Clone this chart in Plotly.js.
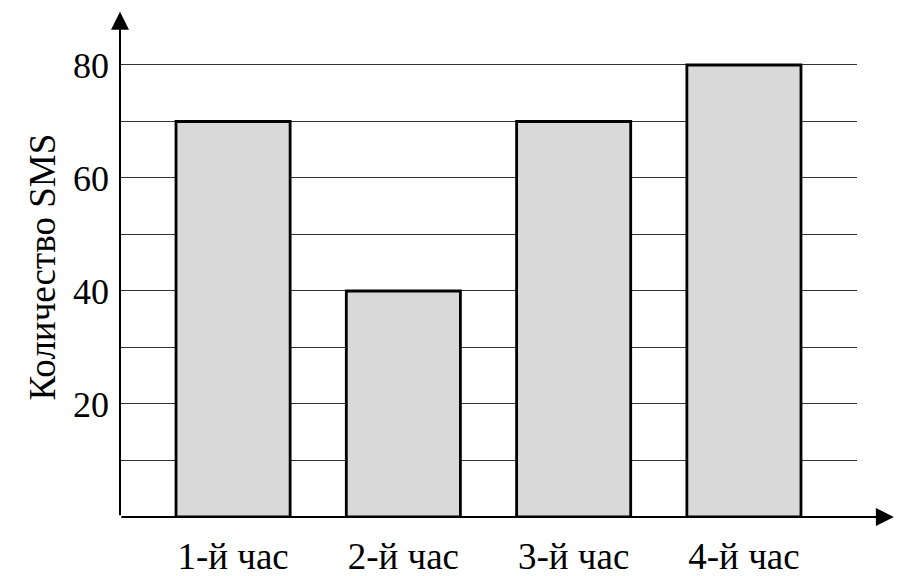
<!DOCTYPE html>
<html>
<head>
<meta charset="utf-8">
<script src="https://cdn.plot.ly/plotly-3.0.1.min.js"></script>
<style>html,body{margin:0;padding:0;background:#fff;}#chart{width:902px;height:576px;}</style>
</head>
<body>
<div id="chart"></div>
<script>
const categories = ["1-й час", "2-й час", "3-й час", "4-й час"];
const smsCounts = [70, 40, 70, 80];
const yTickValues = [20, 40, 60, 80];
const yTickLabels = ["20", "40", "60", "80"];
const yAxisTitle = "Количество SMS";

const FONT = "Liberation Serif";

const trace = {
  type: "bar",
  x: categories.map((c, i) => i),
  y: smsCounts,
  marker: { color: "#d9d9d9", line: { color: "#000", width: 2.8 } },
  hoverinfo: "skip"
};

const layout = {
  width: 902, height: 576,
  margin: { l: 120, r: 45, t: 63, b: 59 },
  paper_bgcolor: "#fff", plot_bgcolor: "#fff",
  showlegend: false,
  bargap: 0.33,
  font: { family: FONT, color: "#000", size: 35 },
  xaxis: {
    range: [-0.664, 3.664],
    tickvals: categories.map((c, i) => i),
    ticktext: categories,
    showgrid: false, zeroline: false, showline: false,
    ticks: "", ticklabelstandoff: 14,
    tickfont: { family: FONT, size: 37, color: "#000" },
    fixedrange: true
  },
  yaxis: {
    range: [0, 80.35],
    tickvals: yTickValues,
    ticktext: yTickLabels,
    showgrid: true, gridcolor: "#333", gridwidth: 1,
    minor: { dtick: 10, showgrid: true, gridcolor: "#333", gridwidth: 1 },
    zeroline: false, showline: false, ticks: "",
    ticklabelstandoff: 10,
    tickfont: { family: FONT, size: 36, color: "#000" },
    fixedrange: true
  },
  annotations: [
    { xref: "paper", yref: "paper", x: -0.105, y: 0.551, xanchor: "center", yanchor: "middle",
      text: yAxisTitle, textangle: -90, showarrow: false,
      font: { family: FONT, size: 37, color: "#000" } },
    { xref: "paper", yref: "paper", x: 0, y: 1.113, ax: 0, ay: 505, axref: "pixel", ayref: "pixel",
      text: "", showarrow: true, arrowhead: 2, arrowsize: 1.8, arrowwidth: 2, arrowcolor: "#000" },
    { xref: "paper", yref: "paper", x: 1.05, y: 0, ax: -774, ay: 0, axref: "pixel", ayref: "pixel",
      text: "", showarrow: true, arrowhead: 2, arrowsize: 1.8, arrowwidth: 2, arrowcolor: "#000" }
  ]
};

Plotly.newPlot("chart", [trace], layout, { displayModeBar: false, staticPlot: true });
</script>
</body>
</html>
